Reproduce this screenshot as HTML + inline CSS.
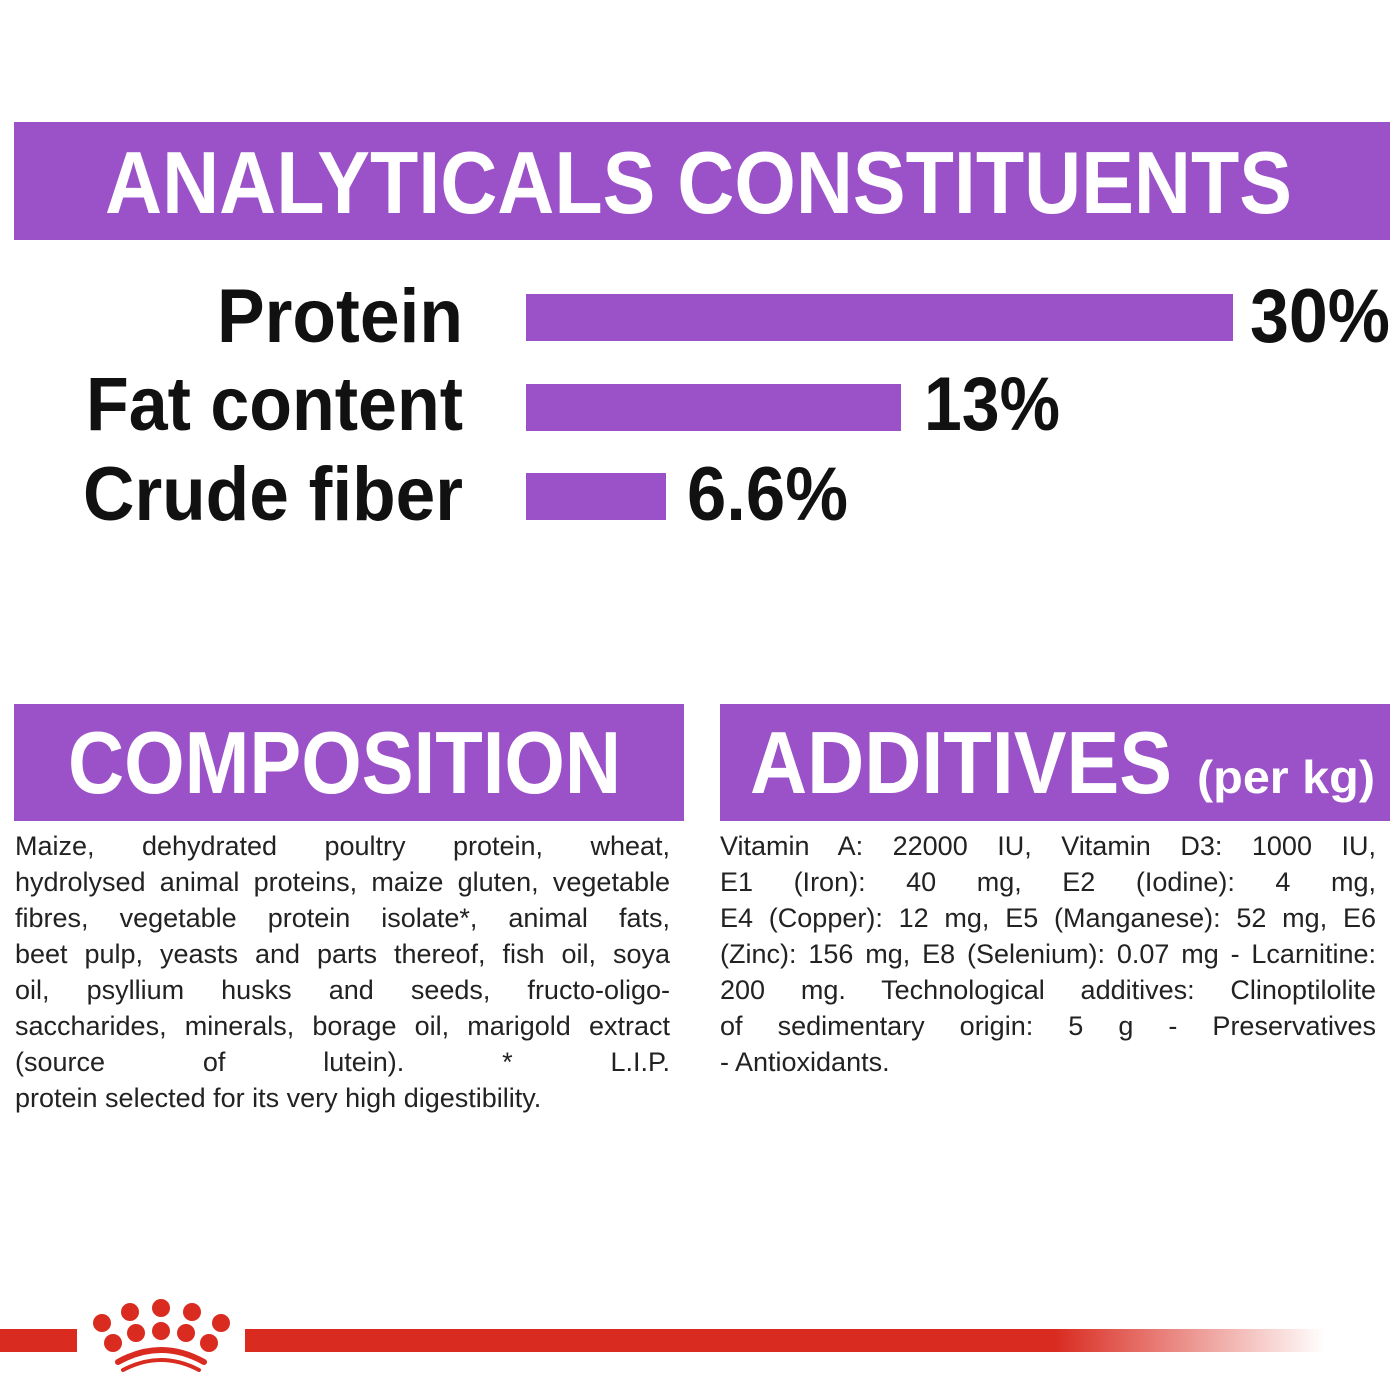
<!DOCTYPE html>
<html><head><meta charset="utf-8"><style>
html,body{margin:0;padding:0;background:#fff;width:1400px;height:1400px;overflow:hidden;position:relative}
.t{position:absolute;font-family:"Liberation Sans Narrow","Liberation Sans",sans-serif;font-size:27px;color:#222;white-space:nowrap;text-align:justify;text-align-last:justify;line-height:36px}
.t.l{text-align-last:left}
</style></head><body>
<svg width="1400" height="1400" style="position:absolute;left:0;top:0" xmlns="http://www.w3.org/2000/svg">
<defs><linearGradient id="g" x1="0" x2="1"><stop offset="0.75" stop-color="#d92b20"/><stop offset="1" stop-color="#d92b20" stop-opacity="0"/></linearGradient></defs>
<g font-family="Liberation Sans, sans-serif" font-weight="bold">
<rect x="14" y="122" width="1376" height="118" fill="#9b52c8"/>
<text x="105" y="213" font-size="88" fill="#fff" textLength="1187" lengthAdjust="spacingAndGlyphs">ANALYTICALS CONSTITUENTS</text>
<text x="463" y="342" font-size="76" text-anchor="end" fill="#111" textLength="246" lengthAdjust="spacingAndGlyphs">Protein</text>
<text x="463" y="430" font-size="76" text-anchor="end" fill="#111" textLength="377" lengthAdjust="spacingAndGlyphs">Fat content</text>
<text x="463" y="520" font-size="76" text-anchor="end" fill="#111" textLength="380" lengthAdjust="spacingAndGlyphs">Crude fiber</text>
<rect x="526" y="294" width="707" height="47" fill="#9b52c8"/>
<rect x="526" y="384" width="375" height="47" fill="#9b52c8"/>
<rect x="526" y="473" width="140" height="47" fill="#9b52c8"/>
<text x="1250" y="342" font-size="76" fill="#111" textLength="140" lengthAdjust="spacingAndGlyphs">30%</text>
<text x="924" y="430" font-size="76" fill="#111" textLength="136" lengthAdjust="spacingAndGlyphs">13%</text>
<text x="687" y="520" font-size="76" fill="#111" textLength="161" lengthAdjust="spacingAndGlyphs">6.6%</text>
<rect x="14" y="704" width="670" height="117" fill="#9b52c8"/>
<text x="68" y="793" font-size="88" fill="#fff" textLength="553" lengthAdjust="spacingAndGlyphs">COMPOSITION</text>
<rect x="720" y="704" width="670" height="117" fill="#9b52c8"/>
<text x="750" y="793" font-size="88" fill="#fff" textLength="422" lengthAdjust="spacingAndGlyphs">ADDITIVES</text>
<text x="1197" y="793" font-size="46" fill="#fff" textLength="178" lengthAdjust="spacingAndGlyphs">(per kg)</text>
</g>
<rect x="0" y="1329" width="77" height="23" fill="#d92b20"/>
<rect x="245" y="1329" width="1080" height="23" fill="url(#g)"/>
<g fill="#d92b20">
<circle cx="102" cy="1323" r="9"/><circle cx="130" cy="1312" r="9"/><circle cx="161" cy="1308" r="9"/><circle cx="192" cy="1312" r="9"/><circle cx="221" cy="1323" r="9"/>
<circle cx="113" cy="1343" r="9"/><circle cx="136" cy="1333" r="9"/><circle cx="161" cy="1331" r="9"/><circle cx="186" cy="1333" r="9"/><circle cx="209" cy="1343" r="9"/>
</g>
<path d="M118 1362 Q161 1338 204 1362" stroke="#d92b20" stroke-width="6" fill="none" stroke-linecap="round"/>
<path d="M123 1370 Q161 1350 199 1370" stroke="#d92b20" stroke-width="4" fill="none" stroke-linecap="round"/>
</svg>
<div class="t" style="left:15px;top:828px;width:655px">
<div>Maize, dehydrated poultry protein, wheat,</div>
<div>hydrolysed animal proteins, maize gluten, vegetable</div>
<div>fibres, vegetable protein isolate*, animal fats,</div>
<div>beet pulp, yeasts and parts thereof, fish oil, soya</div>
<div>oil, psyllium husks and seeds, fructo-oligo-</div>
<div>saccharides, minerals, borage oil, marigold extract</div>
<div>(source of lutein). * L.I.P.</div>
<div class="t l" style="position:static">protein selected for its very high digestibility.</div>
</div>
<div class="t" style="left:720px;top:828px;width:656px">
<div>Vitamin A: 22000 IU, Vitamin D3: 1000 IU,</div>
<div>E1 (Iron): 40 mg, E2 (Iodine): 4 mg,</div>
<div>E4 (Copper): 12 mg, E5 (Manganese): 52 mg, E6</div>
<div>(Zinc): 156 mg, E8 (Selenium): 0.07 mg - Lcarnitine:</div>
<div>200 mg. Technological additives: Clinoptilolite</div>
<div>of sedimentary origin: 5 g - Preservatives</div>
<div class="t l" style="position:static">- Antioxidants.</div>
</div>
</body></html>
